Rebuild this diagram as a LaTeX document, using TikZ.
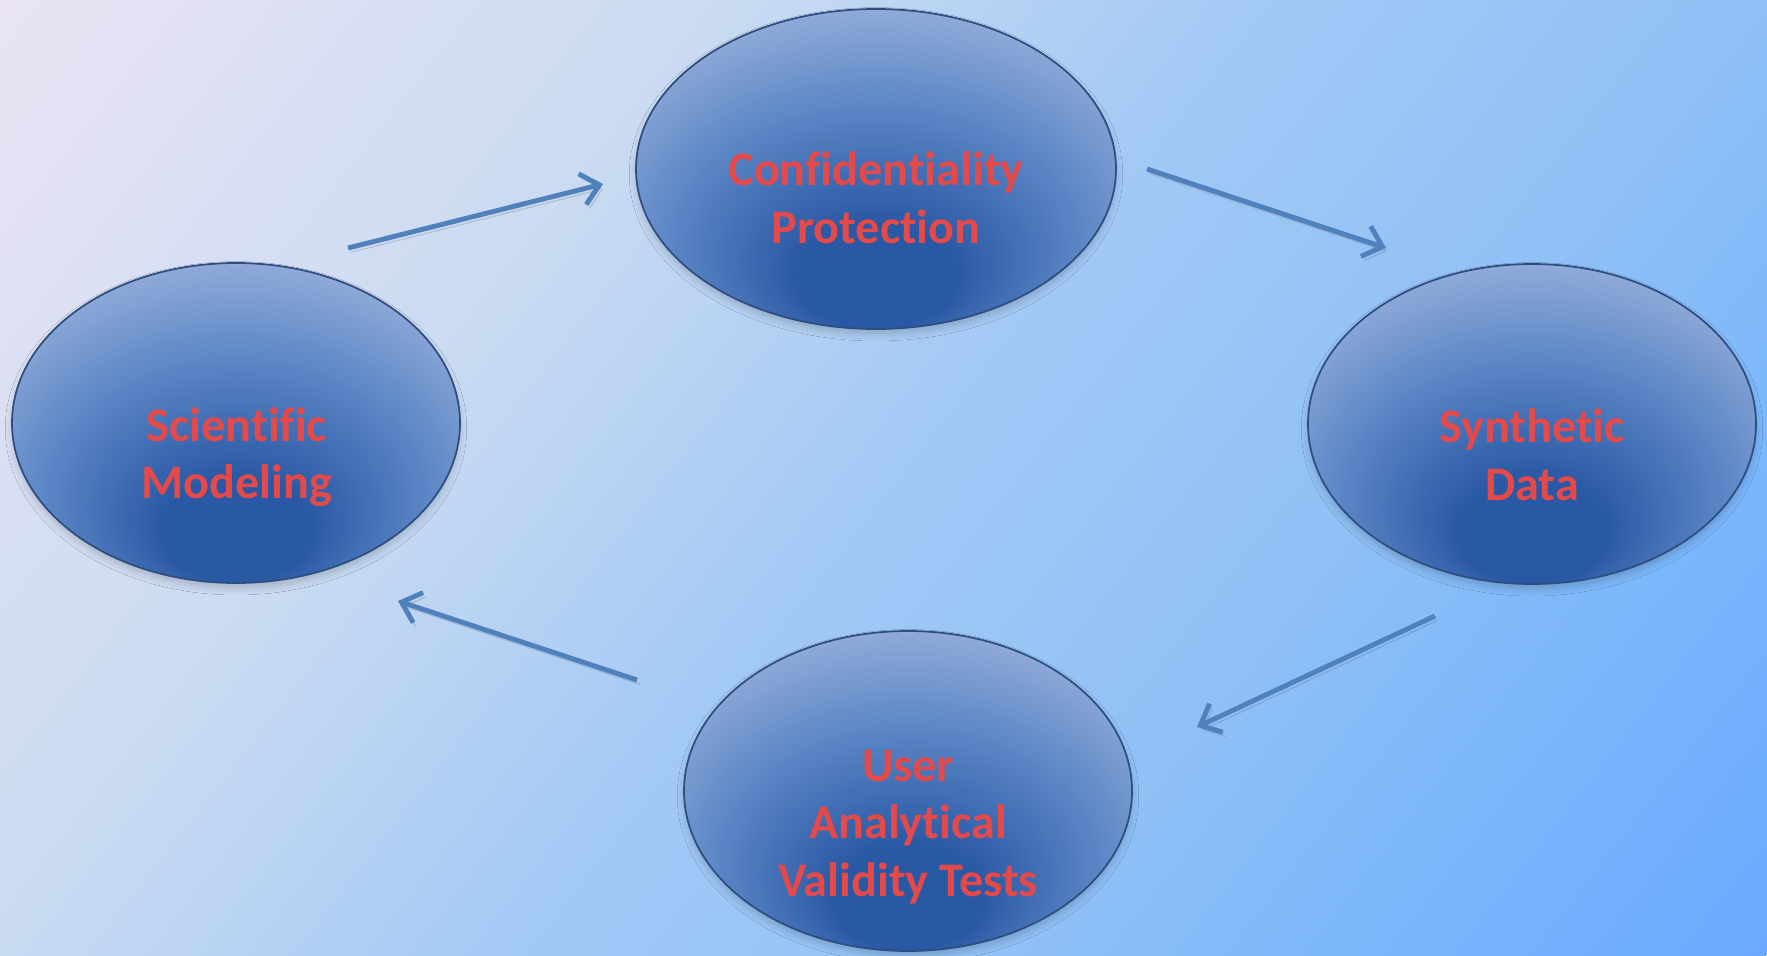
\documentclass[tikz,border=0pt]{standalone}
\usepackage{fontspec}
\setmainfont[Ligatures=NoCommon]{Carlito}
\usetikzlibrary{
  positioning,
  shapes.geometric,
  arrows.meta,
  shadows.blur,
}
\definecolor{bgA}{HTML}{EAE4F4}
\definecolor{bgB}{HTML}{C8DAF2}
\definecolor{bgC}{HTML}{A3C9F5}
\definecolor{bgD}{HTML}{8FC0F6}
\definecolor{bgE}{HTML}{7DB8FA}
\definecolor{bgF}{HTML}{6BA8FF}
\definecolor{ovalDark}{HTML}{2958A4}
\definecolor{ovalMid}{HTML}{5A85C5}
\definecolor{ovalLight}{HTML}{94ADDA}
\definecolor{ovalBorder}{HTML}{2F4E80}
\definecolor{textRed}{HTML}{E44A4A}
\definecolor{arrowCol}{HTML}{4F81BD}
\pgfdeclarehorizontalshading{bgShade}{100bp}{%
  color(0bp)=(bgA); color(25bp)=(bgA); color(40bp)=(bgB); color(50bp)=(bgC);
  color(60bp)=(bgD); color(66bp)=(bgE); color(75bp)=(bgF); color(100bp)=(bgF)}
\pgfdeclareradialshading{ovalShade}{\pgfpoint{0bp}{-20bp}}{%
  color(0bp)=(ovalDark); color(8bp)=(ovalDark); color(21bp)=(ovalMid);
  color(33bp)=(ovalLight); color(50bp)=(ovalLight)}
\tikzset{
  oval/.style={
    ellipse, draw=ovalBorder, line width=0.5pt, shade, shading=ovalShade,
    minimum width=4.48cm, minimum height=3.2cm, inner sep=0pt,
    blur shadow={shadow xshift=0pt, shadow yshift=-1.5pt, shadow blur steps=6, shadow opacity=18},
  },
  ovaltext/.style={
    font=\fontsize{13.7}{16.4}\selectfont\bfseries, text=textRed, align=center,
  },
  flow/.style={-{Straight Barb[length=5pt, width=9pt]}, arrowCol, line width=1.4pt,
    preaction={draw=black!70, opacity=0.18, transform canvas={xshift=0.8pt, yshift=-1.2pt}}},
}

\begin{document}
\begin{tikzpicture}

  % Background
  \useasboundingbox (0,0) rectangle (17.67,-9.55);
  \begin{scope}
    \clip (0,0) rectangle (17.67,-9.55);
    \shade[shading=bgShade, transform canvas={rotate around={-38:(8.835,-4.775)}}]
      (-1.065,-14.775) rectangle (18.735,5.225);
  \end{scope}

  % Ellipses
  \node[oval, minimum width=4.8cm] (conf) at (8.76,-1.69) {};
  \node[oval] (sci) at (2.36,-4.23) {};
  \node[oval] (syn) at (15.32,-4.24) {};
  \node[oval] (user) at (9.08,-7.91) {};

  % Labels
  \node[ovaltext] (confText) at (8.76,-1.98) {Confidentiality\\Protection};
  \node[ovaltext] (sciText) at (2.37,-4.57) {Scientific\\Modeling};
  \node[ovaltext] (synText) at (15.32,-4.55) {Synthetic\\Data};
  \node[ovaltext] (userText) at (9.08,-8.27) {User\\Analytical\\Validity Tests};

  % Arrow ends
  \coordinate (sciOut) at (3.48,-2.48);
  \coordinate (confIn) at (6.03,-1.84);
  \coordinate (confOut) at (11.47,-1.69);
  \coordinate (synIn) at (13.86,-2.48);
  \coordinate (synOut) at (14.35,-6.16);
  \coordinate (userIn) at (11.97,-7.27);
  \coordinate (userOut) at (6.37,-6.80);
  \coordinate (sciIn) at (3.98,-6.01);

  \draw[flow] (sciOut) -- (confIn);
  \draw[flow] (confOut) -- (synIn);
  \draw[flow] (synOut) -- (userIn);
  \draw[flow] (userOut) -- (sciIn);

\end{tikzpicture}
\end{document}
